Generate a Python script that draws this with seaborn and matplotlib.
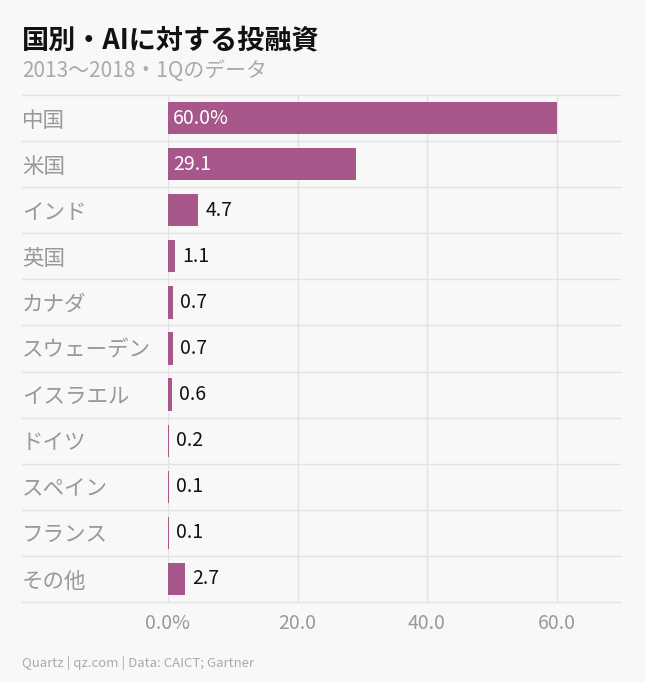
import matplotlib.pyplot as plt
import seaborn as sns
import pandas as pd

countries = ["中国", "米国", "インド", "英国", "カナダ", "スウェーデン", "イスラエル", "ドイツ", "スペイン", "フランス", "その他"]
shares = [60.0, 29.1, 4.7, 1.1, 0.7, 0.7, 0.6, 0.2, 0.1, 0.1, 2.7]
xticks = [0, 20, 40, 60]
xtick_labels = ["0.0%", "20.0", "40.0", "60.0"]

df = pd.DataFrame({"country": countries, "share": shares})

plt.rcParams["font.family"] = "Noto Sans CJK JP"
bg = "#f8f8f8"
fig = plt.figure(figsize=(6.45, 6.82), dpi=100, facecolor=bg)
ax = fig.add_axes([168 / 645, 1 - 602 / 682, 452 / 645, 507 / 682], facecolor=bg)

sns.barplot(data=df, y="country", x="share", color="#a8578a", saturation=1, width=0.7, ax=ax)

ax.set_xlim(0, 69.8)
ax.set_ylim(len(countries) - 0.5, -0.5)
ax.set_xticks(xticks)
ax.set_xticklabels(xtick_labels, fontsize=14, color="#999999")
ax.set_yticks(range(len(countries)))
ax.set_yticklabels(countries, fontsize=15.5, color="#999999", ha="left")
ax.tick_params(axis="y", length=0, pad=146 * 72 / 100)
ax.tick_params(axis="x", length=0, pad=8)
ax.set_xlabel("")
ax.set_ylabel("")
for s in ax.spines.values():
    s.set_visible(False)

for x in xticks:
    ax.axvline(x, color="#e3e3e3", lw=1, zorder=0)
for i in range(len(countries) + 1):
    ax.plot([-146 / 452 * 69.8, 69.8], [i - 0.5, i - 0.5], color="#e3e3e3", lw=1,
            zorder=0, clip_on=False)

for i, v in enumerate(shares):
    label = f"{v:.1f}%" if i == 0 else f"{v:.1f}"
    if v > 20:
        ax.text(0.8, i, label, va="center", ha="left", color="white", fontsize=14)
    else:
        ax.text(v + 1.1, i, label, va="center", ha="left", color="#111111", fontsize=14)

fig.text(22 / 645, 1 - 40 / 682, "国別・AIに対する投融資", fontsize=19.5, fontweight="bold", color="#111111", va="center")
fig.text(22 / 645, 1 - 71 / 682, "2013〜2018・1Qのデータ", fontsize=15, color="#aaaaaa", va="center")
fig.text(22 / 645, 1 - 663 / 682, "Quartz | qz.com | Data: CAICT; Gartner", fontsize=9.5, color="#aaaaaa", va="center")

fig.savefig("out.png", dpi=100, facecolor=bg)
